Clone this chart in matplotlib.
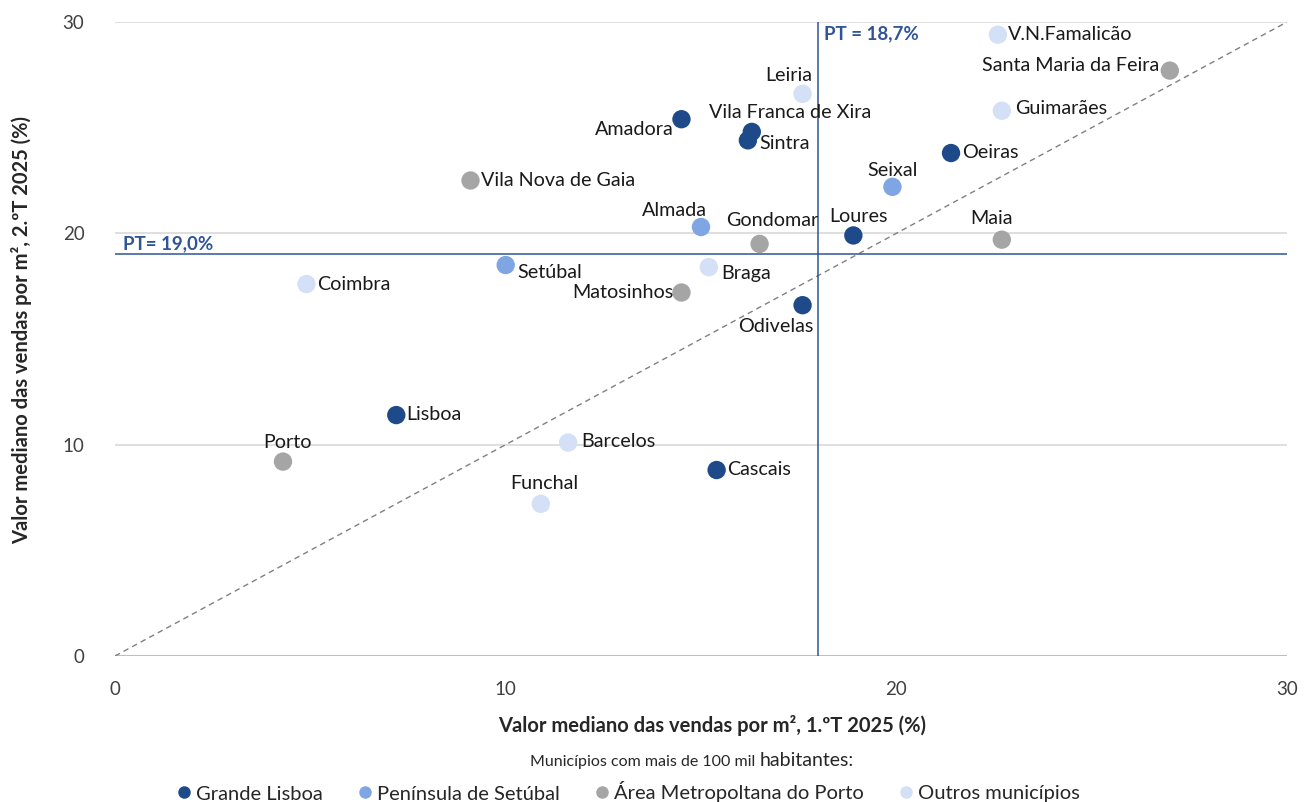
import matplotlib.pyplot as plt
from matplotlib.lines import Line2D

plt.rcParams['font.family'] = ['Lato', 'DejaVu Sans']

# dados: valor mediano das vendas por m2, variação (%)
municipios = ['V.N.Famalicão', 'Santa Maria da Feira', 'Leiria', 'Guimarães', 'Amadora',
              'Vila Franca de Xira', 'Sintra', 'Oeiras', 'Vila Nova de Gaia', 'Seixal',
              'Almada', 'Gondomar', 'Loures', 'Maia', 'Setúbal', 'Braga', 'Coimbra',
              'Matosinhos', 'Odivelas', 'Lisboa', 'Porto', 'Barcelos', 'Cascais', 'Funchal']
t1 = [22.6, 27.0, 17.6, 22.7, 14.5, 16.3, 16.2, 21.4, 9.1, 19.9,
      15.0, 16.5, 18.9, 22.7, 10.0, 15.2, 4.9, 14.5, 17.6, 7.2, 4.3, 11.6, 15.4, 10.9]
t2 = [29.4, 27.7, 26.6, 25.8, 25.4, 24.8, 24.4, 23.8, 22.5, 22.2,
      20.3, 19.5, 19.9, 19.7, 18.5, 18.4, 17.6, 17.2, 16.6, 11.4, 9.2, 10.1, 8.8, 7.2]
grupo = ['Outros', 'AMP', 'Outros', 'Outros', 'GL', 'GL', 'GL', 'GL', 'AMP', 'PS',
         'PS', 'AMP', 'GL', 'AMP', 'PS', 'Outros', 'Outros', 'AMP', 'GL', 'GL', 'AMP',
         'Outros', 'GL', 'Outros']

grupos = ['GL', 'PS', 'AMP', 'Outros']
grupo_nomes = ['Grande Lisboa', 'Península de Setúbal', 'Área Metropoltana do Porto', 'Outros municípios']
cores = {'GL': '#1F4A8A', 'PS': '#7FA6E3', 'AMP': '#A5A5A5', 'Outros': '#D3E0F5'}

pt_t1 = 18.0
pt_t2 = 19.0
pt_t1_txt = 'PT = 18,7%'
pt_t2_txt = 'PT= 19,0%'

# posição das etiquetas (pixels, ha)
offsets = {
    'V.N.Famalicão': (10, 0, 'left'), 'Santa Maria da Feira': (-11, 5, 'right'),
    'Leiria': (-14, 18, 'center'), 'Guimarães': (13, 2, 'left'),
    'Amadora': (-8, -10, 'right'), 'Vila Franca de Xira': (38, 19, 'center'),
    'Sintra': (11, -3, 'left'), 'Oeiras': (11, 1, 'left'),
    'Vila Nova de Gaia': (10, 0, 'left'), 'Seixal': (0, 16, 'center'),
    'Almada': (-27, 16, 'center'), 'Gondomar': (13, 23, 'center'),
    'Loures': (5, 19, 'center'), 'Maia': (-10, 21, 'center'),
    'Setúbal': (12, -7, 'left'), 'Braga': (12, -6, 'left'),
    'Coimbra': (11, 0, 'left'), 'Matosinhos': (-8, 0, 'right'),
    'Odivelas': (-27, -21, 'center'), 'Lisboa': (10, 1, 'left'),
    'Porto': (5, 19, 'center'), 'Barcelos': (13, 1, 'left'),
    'Cascais': (10, 1, 'left'), 'Funchal': (3, 20, 'center'),
}

fig = plt.figure(figsize=(13.12, 8.02), dpi=100)
ax = fig.add_axes([115 / 1312, 1 - 656 / 802, (1287 - 115) / 1312, (656 - 22) / 802])
ax.set_xlim(0, 30)
ax.set_ylim(0, 30)

for s in ax.spines.values():
    s.set_visible(False)
ax.set_yticks([0, 10, 20, 30])
ax.set_xticks([0, 10, 20, 30])
ax.tick_params(length=0, labelsize=13.5, labelcolor='#404040')
ax.tick_params(axis='x', pad=18)
ax.tick_params(axis='y', pad=22)
ax.yaxis.grid(True, color='#D9D9D9', lw=1.2)
ax.axhline(0, color='#BFBFBF', lw=1.5, zorder=1)
ax.set_axisbelow(True)

ax.plot([0, 30], [0, 30], ls=(0, (4, 3)), color='#808080', lw=1, zorder=1)
ax.axvline(pt_t1, color='#2F5597', lw=1.1, zorder=2)
ax.axhline(pt_t2, color='#2F5597', lw=1.1, zorder=2)
ax.text(pt_t1 + 0.15, 29.45, pt_t1_txt, color='#2F5597', fontsize=13.5, fontweight='bold', va='center')
ax.text(0.2, 19.12, pt_t2_txt, color='#2F5597', fontsize=13.5, fontweight='bold', va='bottom')

for g in grupos:
    xs = [x for x, gg in zip(t1, grupo) if gg == g]
    ys = [y for y, gg in zip(t2, grupo) if gg == g]
    ax.scatter(xs, ys, s=175, color=cores[g], edgecolors='none', zorder=3)

for nome, x, y in zip(municipios, t1, t2):
    dx, dy, ha = offsets[nome]
    ax.annotate(nome, (x, y), xytext=(dx * 0.72, dy * 0.72), textcoords='offset points',
                ha=ha, va='center', fontsize=14.2, color='#1A1A1A', zorder=4)

fig.text(22 / 1312, 1 - 330 / 802, 'Valor mediano das vendas por m², 2.ºT 2025 (%)',
         rotation=90, ha='center', va='center', fontsize=14.5, fontweight='bold', color='#262626')
fig.text(712 / 1312, 1 - 725 / 802, 'Valor mediano das vendas por m², 1.ºT 2025 (%)',
         ha='center', va='center', fontsize=14.5, fontweight='bold', color='#262626')
sub1 = fig.text(530 / 1312, 1 - 766 / 802, 'Municípios com mais de 100 mil ', ha='left', va='baseline',
                fontsize=11.5, color='#262626')
fig.canvas.draw()
ax.annotate('habitantes:', xy=(1, 0), xycoords=sub1, ha='left', va='bottom',
            fontsize=14, color='#262626', annotation_clip=False)

handles = [Line2D([], [], marker='o', ls='none', markersize=9, markerfacecolor=cores[g],
                  markeredgecolor='none') for g in grupos]
fig.legend(handles, grupo_nomes, loc='center', bbox_to_anchor=(628 / 1312, 1 - 792 / 802),
           ncol=4, frameon=False, fontsize=14.5, handletextpad=0.2, columnspacing=1.7,
           handlelength=0.8, labelcolor='#262626', borderpad=0)

fig.savefig('out.png', dpi=100)
